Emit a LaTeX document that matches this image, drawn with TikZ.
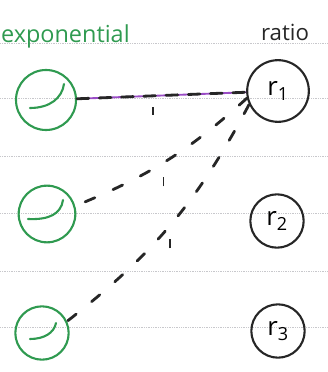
\documentclass[tikz,border=0pt]{standalone}
\usepackage{fontspec}
\setsansfont{Open Sans}
\usepackage{tikz}
\usetikzlibrary{calc,positioning}
\definecolor{ExpGreen}{HTML}{2F9A50}
\definecolor{EdgePurple}{HTML}{9A4CC6}
\definecolor{InkBlack}{HTML}{262626}
\definecolor{RuleGray}{HTML}{C8C8CC}

\begin{document}
\begin{tikzpicture}[x=0.03cm,y=-0.03cm,
    ruled/.style={RuleGray, line width=0.5pt, densely dotted},
    expnode/.style={circle, draw=ExpGreen, line width=1.8pt, inner sep=0pt},
    rnode/.style={circle, draw=InkBlack, line width=1.8pt, inner sep=0pt,
      font=\sffamily\fontsize{22}{24}\selectfont},
    chk/.style={ExpGreen, line width=1.8pt, line cap=round},
    link/.style={InkBlack, line width=2.4pt, line cap=round, dash pattern=on 9pt off 17pt},
    wt/.style={inner sep=0pt, text=InkBlack}]
  \useasboundingbox (0,0) rectangle (327,372);
  % paper rules
  \foreach \y in {43,98,156,213,271,327}
    \draw[ruled] (0,\y) -- (327,\y);
  % headings
  \node[ExpGreen, font=\sffamily\fontsize{20}{22}\selectfont, anchor=base west] (hexp) at (-3,43) {exponential};
  \node[InkBlack, font=\sffamily\fontsize{19}{22}\selectfont, anchor=base] (hratio) at (285,41) {ratio};
  % left column
  \node[expnode, minimum size=1.8cm] (g1) at (46,100) {};
  \node[expnode, minimum size=1.7cm] (g2) at (47,214) {};
  \node[expnode, minimum size=1.6cm] (g3) at (42,333) {};
  \draw[chk] ($(g1)+(18,-16)$) .. controls ($(g1)+(16,-2)$) and ($(g1)+(4,8)$) .. ($(g1)+(-16,8)$);
  \draw[chk] ($(g2)+(16,-14)$) .. controls ($(g2)+(14,0)$) and ($(g2)+(2,6)$) .. ($(g2)+(-19,5)$);
  \draw[chk] ($(g3)+(14,-10)$) .. controls ($(g3)+(12,0)$) and ($(g3)+(2,6)$) .. ($(g3)+(-12,6)$);
  % right column
  \node[rnode, minimum size=1.85cm] (r1) at (278,91) {r\textsubscript{1}};
  \node[rnode, minimum size=1.6cm]  (r2) at (277,221) {r\textsubscript{2}};
  \node[rnode, minimum size=1.6cm]  (r3) at (278,331) {r\textsubscript{3}};
  % links
  \draw[EdgePurple, line width=1.6pt] (g1) -- (r1);
  \draw[link, dash pattern=on 10pt off 9pt] (g1) -- (r1)
    node[wt, pos=.45, below=8pt] {\rule{1.5pt}{7pt}};
  \draw[link] (r1.193) to[bend left=10]
    node[wt, pos=.52, below=11pt] {\rule{1.5pt}{8pt}} (g2.16);
  \draw[link] (r1.205) to[bend left=12]
    node[wt, pos=.6, right=12pt] {\rule{1.5pt}{8pt}} (g3.25);
\end{tikzpicture}
\end{document}
